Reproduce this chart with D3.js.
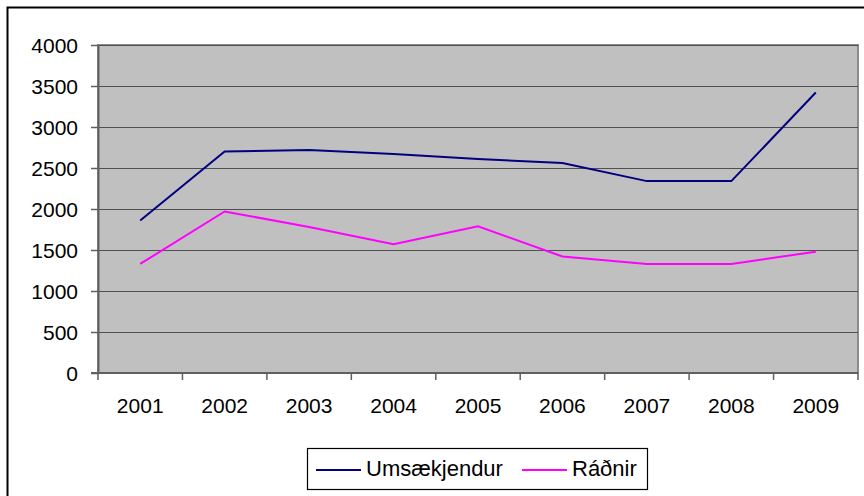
<!DOCTYPE html>
<html>
<head>
<meta charset="utf-8">
<script src="https://cdn.jsdelivr.net/npm/d3@7"></script>
<style>
  body { margin: 0; background: #fff; }
  svg { display: block; font-family: "Liberation Sans", Arial, sans-serif; }
</style>
</head>
<body>
<div id="chart"></div>
<script>
// gögn lesin af myndinni
var years = ["2001", "2002", "2003", "2004", "2005", "2006", "2007", "2008", "2009"];
var umsaekjendur = [1860, 2700, 2720, 2670, 2610, 2560, 2340, 2340, 3420];
var radnir = [1330, 1970, 1780, 1570, 1790, 1420, 1330, 1330, 1480];
var yTicks = [0, 500, 1000, 1500, 2000, 2500, 3000, 3500, 4000];
var seriesNames = ["Umsækjendur", "Ráðnir"];
var seriesColors = ["#000080", "#ff00ff"];

var width = 864, height = 496;
var plot = { left: 98, top: 45, right: 858, bottom: 373 };

var svg = d3.select('#chart')
    .append('svg')
    .attr('width', width)
    .attr('height', height);

// ytri rammi
svg.append('rect')
    .attr('x', 7.5).attr('y', 7.5)
    .attr('width', width + 10).attr('height', height + 10)
    .attr('fill', '#fff')
    .attr('stroke', '#000')
    .attr('stroke-width', 2);

var x = d3.scaleBand()
    .domain(years)
    .range([plot.left, plot.right])
    .padding(0);

var y = d3.scaleLinear()
    .domain([0, 4000])
    .range([plot.bottom, plot.top]);

// grátt svæði
svg.append('rect')
    .attr('x', plot.left).attr('y', plot.top)
    .attr('width', plot.right - plot.left)
    .attr('height', plot.bottom - plot.top)
    .attr('fill', '#c0c0c0')
    .attr('stroke', '#8a8a8a')
    .attr('stroke-width', 2);

// hnitalínur
svg.append('g')
    .selectAll('line')
    .data(yTicks.filter(function (d) { return d > 0; }))
    .enter().append('line')
    .attr('x1', plot.left).attr('x2', plot.right)
    .attr('y1', function (d) { return Math.round(y(d)) + 0.5; })
    .attr('y2', function (d) { return Math.round(y(d)) + 0.5; })
    .attr('stroke', '#505050')
    .attr('stroke-width', 1);

// y-ás
var yAxis = svg.append('g')
    .attr('transform', 'translate(' + plot.left + ',0)')
    .call(d3.axisLeft(y).tickValues(yTicks).tickFormat(d3.format('d'))
        .tickSize(7).tickPadding(13).tickSizeOuter(0));
yAxis.select('.domain').attr('stroke', '#606060').attr('stroke-width', 2);
yAxis.selectAll('.tick line').attr('stroke', '#606060').attr('stroke-width', 1.5);
yAxis.selectAll('text').attr('font-size', 21).attr('dy', '0.36em').attr('fill', '#000');

// x-ás
var xAxis = svg.append('g')
    .attr('transform', 'translate(0,' + plot.bottom + ')')
    .call(d3.axisBottom(x).tickSize(0).tickPadding(25));
xAxis.select('.domain').remove();
xAxis.selectAll('text').attr('font-size', 21).attr('fill', '#000');

svg.append('line')
    .attr('x1', plot.left - 7).attr('x2', plot.right)
    .attr('y1', plot.bottom).attr('y2', plot.bottom)
    .attr('stroke', '#606060')
    .attr('stroke-width', 2);

var edges = years.map(function (d) { return x(d); }).concat([plot.right]);
svg.append('g')
    .selectAll('line')
    .data(edges)
    .enter().append('line')
    .attr('x1', function (d) { return d; })
    .attr('x2', function (d) { return d; })
    .attr('y1', plot.bottom)
    .attr('y2', plot.bottom + 7)
    .attr('stroke', '#606060')
    .attr('stroke-width', 1.5);

// línur
var line = d3.line()
    .x(function (d, i) { return x(years[i]) + x.bandwidth() / 2; })
    .y(function (d) { return y(d); });

[umsaekjendur, radnir].forEach(function (s, i) {
    svg.append('path')
        .datum(s)
        .attr('d', line)
        .attr('fill', 'none')
        .attr('stroke', seriesColors[i])
        .attr('stroke-width', 2);
});

// skýringar
var legend = svg.append('g');
legend.append('rect')
    .attr('x', 307.5).attr('y', 448.5)
    .attr('width', 340).attr('height', 41)
    .attr('fill', '#fff')
    .attr('stroke', '#000')
    .attr('stroke-width', 1.2);

var legendX = [316, 522];
seriesNames.forEach(function (name, i) {
    legend.append('line')
        .attr('x1', legendX[i]).attr('x2', legendX[i] + 45)
        .attr('y1', 470).attr('y2', 470)
        .attr('stroke', seriesColors[i])
        .attr('stroke-width', 2);
    legend.append('text')
        .attr('x', legendX[i] + 50)
        .attr('y', 475.5)
        .attr('font-size', 22)
        .attr('fill', '#000')
        .text(name);
});
</script>
</body>
</html>
